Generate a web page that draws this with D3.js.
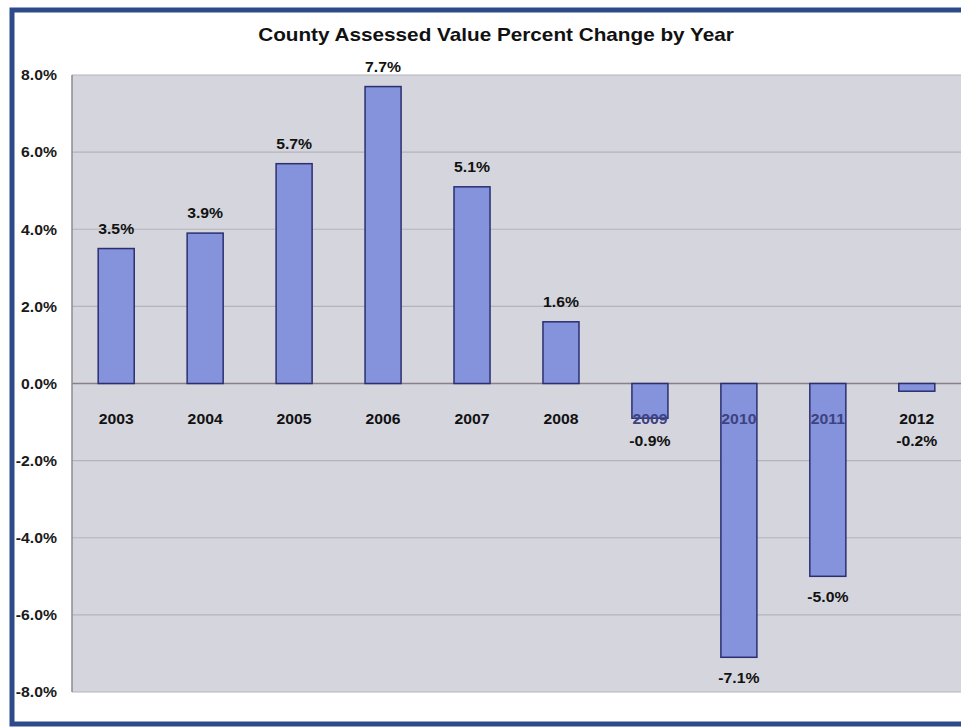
<!DOCTYPE html>
<html><head><meta charset="utf-8">
<script src="https://cdn.jsdelivr.net/npm/d3@7/dist/d3.min.js"></script>
<style>body{margin:0;background:#fff;}svg{display:block;font-family:"Liberation Sans",Arial,sans-serif;}</style>
</head><body>
<script>
const years = ["2003","2004","2005","2006","2007","2008","2009","2010","2011","2012"];
const changes = [3.5, 3.9, 5.7, 7.7, 5.1, 1.6, -0.9, -7.1, -5.0, -0.2];
const yTicks = [8, 6, 4, 2, 0, -2, -4, -6, -8];
const title = "County Assessed Value Percent Change by Year";

const W = 961, H = 728;
const svg = d3.select("body").append("svg").attr("width", W).attr("height", H);
const pct = d => d3.format(".1f")(d).replace("\u2212", "-") + "%";
function stretch(sel, k) {
  sel.each(function () {
    const len = this.getComputedTextLength();
    d3.select(this).attr("textLength", len * k).attr("lengthAdjust", "spacingAndGlyphs");
  });
}

// frame
svg.append("rect").attr("x", 12).attr("y", 10).attr("width", W + 20).attr("height", 714)
  .attr("fill", "#fff").attr("stroke", "#2f4a8a").attr("stroke-width", 5);

const L = 72, R = 961, T = 75, B = 692;
const x = d3.scaleBand().domain(years).range([L - 0.5, R + 0.5]).paddingInner(0.595).paddingOuter(0.3);
const y = d3.scaleLinear().domain([-8, 8]).range([B, T]);

svg.append("rect").attr("x", L).attr("y", T).attr("width", R - L).attr("height", B - T)
  .attr("fill", "#d5d5dd");

svg.append("g").selectAll("line").data(yTicks).join("line")
  .attr("x1", L).attr("x2", R).attr("y1", d => y(d)).attr("y2", d => y(d))
  .attr("stroke", d => d === 0 ? "#8a8088" : "#b3b3bd").attr("stroke-width", d => d === 0 ? 1.5 : 1.2);

svg.append("line").attr("x1", L).attr("x2", L).attr("y1", T).attr("y2", B)
  .attr("stroke", "#8a8a92").attr("stroke-width", 1.5);

// y axis labels
const yAxis = d3.axisLeft(y).tickValues(yTicks).tickSize(0).tickPadding(0).tickFormat(pct);
const gy = svg.append("g").attr("transform", `translate(57,0)`).call(yAxis);
gy.select(".domain").remove();
gy.selectAll("text").attr("font-size", 15).attr("font-weight", "bold").attr("fill", "#1a1a1a")
  .attr("font-family", "Liberation Sans, Arial, sans-serif");
stretch(gy.selectAll("text"), 1.05);

// bars
svg.append("g").selectAll("rect").data(changes).join("rect")
  .attr("x", (d, i) => x(years[i]))
  .attr("y", d => y(Math.max(0, d)))
  .attr("width", x.bandwidth())
  .attr("height", d => Math.abs(y(d) - y(0)))
  .attr("fill", "#8592dc")
  .attr("stroke", "#2b2f70").attr("stroke-width", 1.5);

// category labels
const catY = y(0) + 40;
const cats = svg.append("g").selectAll("text").data(years).join("text")
  .attr("x", d => x(d) + x.bandwidth() / 2).attr("y", catY)
  .attr("text-anchor", "middle").attr("font-size", 15).attr("font-weight", "bold")
  .attr("fill", (d, i) => y(changes[i]) > catY - 12 ? "#3d4280" : "#111")
  .text(d => d);
stretch(cats, 1.05);

// value labels
const vals = svg.append("g").selectAll("text").data(changes).join("text")
  .attr("x", (d, i) => x(years[i]) + x.bandwidth() / 2)
  .attr("y", d => d >= 0 ? y(d) - 15 : Math.max(y(d) + 26, y(0) + 62))
  .attr("text-anchor", "middle").attr("font-size", 15).attr("font-weight", "bold").attr("fill", "#111")
  .text(pct);
stretch(vals, 1.05);

const t = svg.append("text").attr("x", 496).attr("y", 41).attr("text-anchor", "middle")
  .attr("font-size", 18.5).attr("font-weight", "bold").attr("fill", "#111").text(title);
stretch(t, 1.12);
</script>
</body></html>
